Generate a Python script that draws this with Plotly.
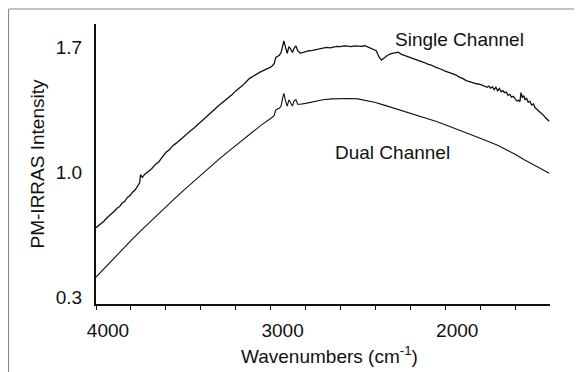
import plotly.graph_objects as go

# Single channel spectrum (wavenumber, intensity)
single_wn = [4000, 3985, 3970, 3955, 3940, 3925, 3910, 3895, 3880, 3865, 3850, 3835, 3820, 3805, 3790,
             3775, 3760, 3750, 3745, 3735, 3720, 3710, 3700, 3690, 3680, 3660, 3640, 3620, 3600, 3580,
             3560, 3540, 3520, 3500, 3480, 3460, 3440, 3420, 3400, 3380, 3360, 3340, 3320, 3300, 3280,
             3260, 3240, 3220, 3200, 3180, 3160, 3140, 3120, 3100, 3080, 3060, 3040, 3020, 3000, 2990,
             2980, 2970, 2960, 2950, 2940, 2930, 2924, 2915, 2905, 2895, 2885, 2875, 2865, 2855, 2845,
             2830, 2800, 2780, 2760, 2740, 2720, 2700, 2680, 2660, 2640, 2620, 2600, 2580, 2560, 2540,
             2520, 2500, 2480, 2460, 2440, 2410, 2395, 2380, 2365, 2350, 2330, 2310, 2290, 2270, 2250,
             2220, 2200, 2180, 2160, 2140, 2120, 2100, 2080, 2060, 2040, 2020, 2000, 1980, 1960, 1940,
             1920, 1900, 1880, 1860, 1840, 1820, 1800, 1780, 1770, 1760, 1750, 1740, 1730, 1720, 1710,
             1700, 1690, 1680, 1670, 1660, 1650, 1640, 1630, 1620, 1610, 1600, 1590, 1580, 1572, 1566,
             1558, 1550, 1542, 1535, 1525, 1515, 1505, 1495, 1485, 1475, 1465, 1455, 1445, 1435, 1425,
             1415, 1405]
single_val = [0.688, 0.699, 0.714, 0.724, 0.741, 0.752, 0.768, 0.780, 0.797, 0.806, 0.826, 0.836, 0.858, 0.868, 0.888,
              0.900, 0.925, 0.940, 0.985, 0.970, 0.988, 0.995, 1.000, 1.012, 1.020, 1.043, 1.058, 1.085, 1.110, 1.125,
              1.148, 1.162, 1.180, 1.196, 1.213, 1.230, 1.245, 1.262, 1.280, 1.296, 1.315, 1.330, 1.352, 1.370, 1.386,
              1.400, 1.418, 1.434, 1.455, 1.470, 1.486, 1.506, 1.525, 1.537, 1.550, 1.560, 1.570, 1.578, 1.588, 1.596,
              1.608, 1.643, 1.650, 1.655, 1.670, 1.715, 1.735, 1.700, 1.666, 1.703, 1.690, 1.670, 1.695, 1.707, 1.680,
              1.666, 1.675, 1.680, 1.682, 1.687, 1.688, 1.694, 1.699, 1.696, 1.700, 1.704, 1.703, 1.707, 1.706, 1.703,
              1.707, 1.704, 1.705, 1.708, 1.700, 1.690, 1.680, 1.647, 1.628, 1.640, 1.655, 1.664, 1.668, 1.672, 1.660,
              1.650, 1.644, 1.635, 1.630, 1.620, 1.614, 1.605, 1.600, 1.590, 1.584, 1.575, 1.566, 1.560, 1.550, 1.545,
              1.532, 1.525, 1.513, 1.506, 1.502, 1.495, 1.492, 1.485, 1.480, 1.475, 1.482, 1.470, 1.478, 1.462, 1.475,
              1.455, 1.468, 1.450, 1.456, 1.445, 1.448, 1.430, 1.436, 1.420, 1.424, 1.408, 1.398, 1.402, 1.396, 1.445,
              1.418, 1.428, 1.404, 1.415, 1.392, 1.396, 1.376, 1.382, 1.360, 1.352, 1.344, 1.334, 1.326, 1.316, 1.304,
              1.296, 1.285]

# Dual channel spectrum
dual_wn = [4000, 3950, 3900, 3850, 3800, 3750, 3700, 3650, 3600, 3550, 3500, 3450, 3400, 3350, 3300,
           3250, 3200, 3150, 3100, 3050, 3000, 2990, 2980, 2972, 2960, 2950, 2940, 2930, 2924, 2915,
           2905, 2895, 2885, 2875, 2865, 2855, 2845, 2830, 2800, 2750, 2700, 2650, 2600, 2550, 2500,
           2450, 2400, 2350, 2300, 2250, 2200, 2150, 2100, 2050, 2000, 1950, 1900, 1850, 1800, 1750,
           1700, 1650, 1600, 1550, 1500, 1450, 1404]
dual_val = [0.411, 0.463, 0.514, 0.565, 0.615, 0.664, 0.712, 0.759, 0.805, 0.851, 0.896, 0.940, 0.983, 1.026, 1.068,
            1.109, 1.149, 1.190, 1.230, 1.266, 1.300, 1.306, 1.316, 1.345, 1.355, 1.357, 1.370, 1.420, 1.441, 1.400,
            1.370, 1.405, 1.390, 1.370, 1.400, 1.405, 1.380, 1.380, 1.385, 1.395, 1.405, 1.410, 1.413, 1.412, 1.410,
            1.402, 1.390, 1.375, 1.360, 1.345, 1.330, 1.315, 1.300, 1.283, 1.265, 1.247, 1.228, 1.210, 1.190, 1.170,
            1.150, 1.125, 1.100, 1.070, 1.045, 1.020, 0.993]

x_tickvals = [4000, 3800, 3600, 3400, 3200, 3000, 2800, 2600, 2400, 2200, 2000, 1800, 1600]
x_ticktext = ["4000", "", "", "", "", "3000", "", "", "", "", "2000", "", ""]
y_tickvals = [0.3, 1.0, 1.7]
y_ticktext = ["0.3", "1.0", "1.7"]

FONT = "Liberation Sans, Arial, Helvetica, sans-serif"

fig = go.Figure()
fig.add_trace(go.Scatter(x=single_wn, y=single_val, mode="lines",
                         line=dict(color="#111111", width=1.3), name="Single Channel"))
fig.add_trace(go.Scatter(x=dual_wn, y=dual_val, mode="lines",
                         line=dict(color="#111111", width=1.1), name="Dual Channel"))

fig.add_annotation(x=1918, y=1.745, text="Single Channel", showarrow=False,
                   font=dict(size=19, color="#111111", family=FONT))
fig.add_annotation(x=2300, y=1.11, text="Dual Channel", showarrow=False,
                   font=dict(size=19, color="#111111", family=FONT))
# x-axis title, placed as in the reference (slightly right of centre)
fig.add_annotation(xref="paper", yref="paper", x=0.5154, y=-0.182, yanchor="middle",
                   text="Wavenumbers (cm<sup>-1</sup>)", showarrow=False,
                   font=dict(size=19, color="#111111", family=FONT))

# light grey frame (top and left edges)
fig.add_shape(type="line", xref="paper", yref="paper", x0=-0.1927, x1=1.1, y0=1.0536, y1=1.0536,
              line=dict(color="#8a8a8a", width=1.2))
fig.add_shape(type="line", xref="paper", yref="paper", x0=-0.1927, x1=-0.1927, y0=1.0536, y1=-0.3,
              line=dict(color="#8a8a8a", width=1.2))

fig.update_layout(
    width=574, height=364,
    margin=dict(l=88, r=32, t=16, b=68, autoexpand=False),
    paper_bgcolor="white", plot_bgcolor="white",
    showlegend=False,
    font=dict(family=FONT, size=19, color="#111111"),
)
fig.update_xaxes(range=[4000, 1400], showgrid=False, zeroline=False, automargin=False,
                 showline=True, linecolor="#111111", linewidth=2,
                 tickvals=x_tickvals, ticktext=x_ticktext,
                 ticks="outside", ticklen=4, tickwidth=1, tickcolor="#111111",
                 ticklabelshift=-12, ticklabelstandoff=4)
fig.update_yaxes(range=[0.26, 1.83], showgrid=False, zeroline=False, automargin=False,
                 showline=True, linecolor="#111111", linewidth=2,
                 tickvals=y_tickvals, ticktext=y_ticktext, ticks="",
                 ticklabelstandoff=8,
                 title=dict(text="PM-IRRAS Intensity", standoff=6, font=dict(size=19)))

fig.write_html("out.html")
